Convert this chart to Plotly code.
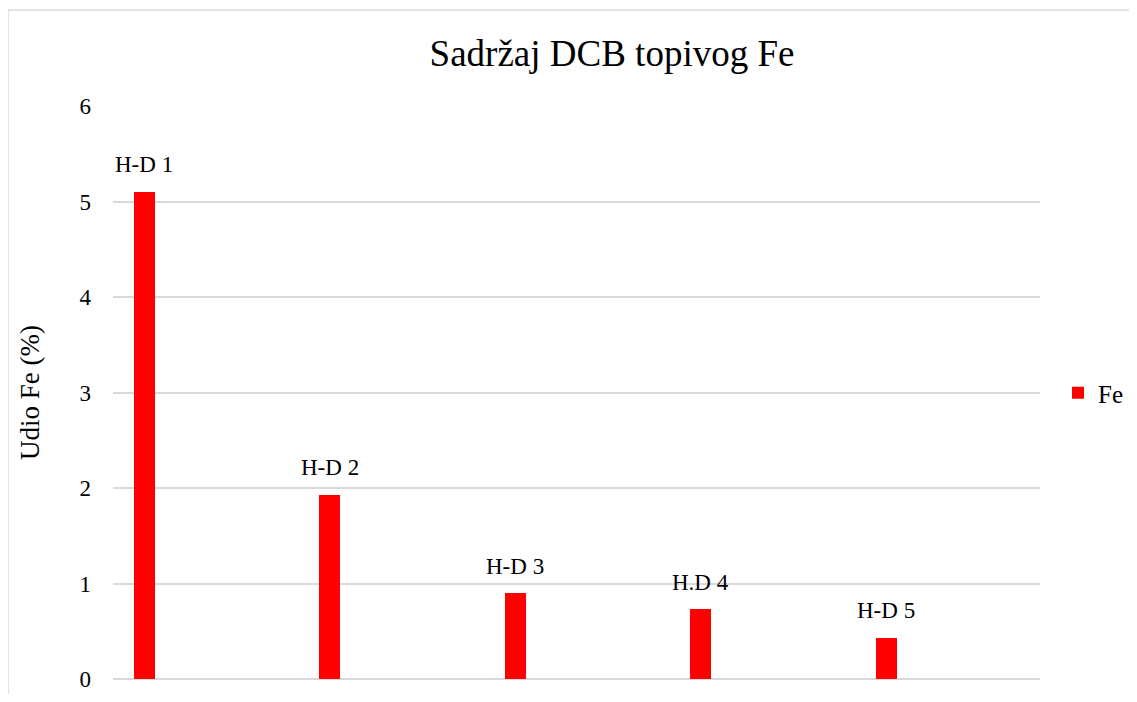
import plotly.graph_objects as go

categories = ["H-D 1", "H-D 2", "H-D 3", "H.D 4", "H-D 5"]
fe_values = [5.10, 1.93, 0.90, 0.73, 0.43]
y_ticks = [0, 1, 2, 3, 4, 5, 6]

FONT = "Liberation Serif"
# page has an 8px body margin; figure size chosen so it fits the 1137x702 window
OX, OY = 8, 8
W, H = 1121, 686
ML = 113 - OX
MT = 106 - OY
PR = 1040 - OX            # plot right edge in figure px
PB = 679 - OY             # plot bottom edge in figure px
MR = W - PR
MB = H - PB
PW = PR - ML
PH = PB - MT

bar_offset = -0.387
bar_width = 0.113

fig = go.Figure()
fig.add_trace(go.Bar(
    x=categories, y=fe_values, name="Fe",
    marker=dict(color="#ff0000", line=dict(width=0)),
    offset=bar_offset, width=bar_width,
    showlegend=True,
))

for i, (c, v) in enumerate(zip(categories, fe_values)):
    fig.add_annotation(
        x=i + bar_offset + bar_width / 2, y=v, xref="x", yref="y",
        text=c, showarrow=False, yshift=27, yanchor="middle",
        font=dict(family=FONT, size=23, color="#000000"),
    )

fig.update_layout(
    width=W, height=H, autosize=False,
    margin=dict(l=ML, r=MR, t=MT, b=MB, pad=0, autoexpand=False),
    paper_bgcolor="white", plot_bgcolor="white",
    font=dict(family=FONT, color="#000000"),
    title=dict(text="Sadržaj DCB topivog Fe", x=(612 - OX - ML) / PW, xref="paper",
               xanchor="center", y=1 - (53 - OY) / H, yref="container", yanchor="middle",
               font=dict(family=FONT, size=37, color="#000000")),
    xaxis=dict(type="category", range=[-0.5, 4.5], showticklabels=False, showgrid=False,
               zeroline=False, showline=False, ticks="", automargin=False),
    yaxis=dict(range=[0, 6], tickvals=y_ticks, showgrid=True, gridcolor="#d9d9d9", gridwidth=1.5,
               zeroline=True, zerolinecolor="#d9d9d9", zerolinewidth=1.5, showline=False,
               ticks="", ticklabelstandoff=21, automargin=False,
               tickfont=dict(family=FONT, size=23, color="#000000"),
               title=dict(text="Udio Fe (%)", standoff=32, font=dict(family=FONT, size=27, color="#000000"))),
    legend=dict(x=(1058 - OX - ML) / PW, y=(PB - (393 - OY)) / PH, xanchor="left", yanchor="middle",
                font=dict(family=FONT, size=25, color="#000000"), bgcolor="rgba(0,0,0,0)",
                borderwidth=0, itemwidth=30),
    bargap=0,
)

# chart frame (left and top edges)
fx = (8 - OX - ML) / PW
fy = (PB - (10 - OY)) / PH
fig.add_shape(type="line", xref="paper", yref="paper", x0=fx, x1=fx, y0=fy, y1=-MB / PH - 0.1,
              line=dict(color="#d9d9d9", width=1.5))
fig.add_shape(type="line", xref="paper", yref="paper", x0=fx, x1=(W + 20 - ML) / PW, y0=fy, y1=fy,
              line=dict(color="#d9d9d9", width=1.5))

fig.write_html("out.html")
